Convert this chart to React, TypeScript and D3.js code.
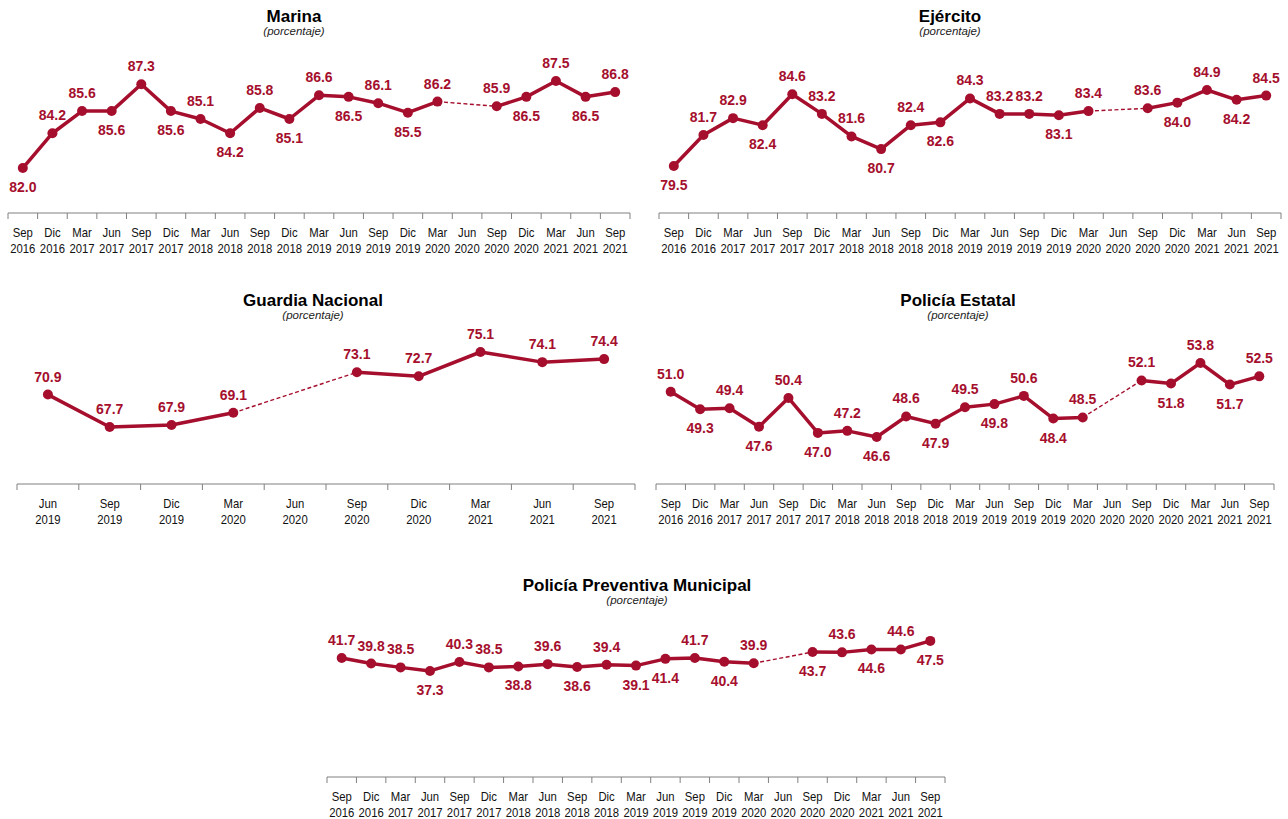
import React from "react";
import * as d3 from "d3";

// ---------- DATA ----------
const quarters: string[] = [
  "Sep 2016", "Dic 2016", "Mar 2017", "Jun 2017", "Sep 2017", "Dic 2017", "Mar 2018",
  "Jun 2018", "Sep 2018", "Dic 2018", "Mar 2019", "Jun 2019", "Sep 2019", "Dic 2019",
  "Mar 2020", "Jun 2020", "Sep 2020", "Dic 2020", "Mar 2021", "Jun 2021", "Sep 2021",
];
const gnQuarters: string[] = [
  "Jun 2019", "Sep 2019", "Dic 2019", "Mar 2020", "Jun 2020",
  "Sep 2020", "Dic 2020", "Mar 2021", "Jun 2021", "Sep 2021",
];

const marina: (number | null)[] = [
  82.0, 84.2, 85.6, 85.6, 87.3, 85.6, 85.1, 84.2, 85.8, 85.1, 86.6,
  86.5, 86.1, 85.5, 86.2, null, 85.9, 86.5, 87.5, 86.5, 86.8,
];
const ejercito: (number | null)[] = [
  79.5, 81.7, 82.9, 82.4, 84.6, 83.2, 81.6, 80.7, 82.4, 82.6, 84.3,
  83.2, 83.2, 83.1, 83.4, null, 83.6, 84.0, 84.9, 84.2, 84.5,
];
const guardia: (number | null)[] = [70.9, 67.7, 67.9, 69.1, null, 73.1, 72.7, 75.1, 74.1, 74.4];
const estatal: (number | null)[] = [
  51.0, 49.3, 49.4, 47.6, 50.4, 47.0, 47.2, 46.6, 48.6, 47.9, 49.5,
  49.8, 50.6, 48.4, 48.5, null, 52.1, 51.8, 53.8, 51.7, 52.5,
];
const municipal: (number | null)[] = [
  41.7, 39.8, 38.5, 37.3, 40.3, 38.5, 38.8, 39.6, 38.6, 39.4, 39.1,
  41.4, 41.7, 40.4, 39.9, null, 43.7, 43.6, 44.6, 44.6, 47.5,
];

// label placement: a = above, b = below
const marinaPos = "b a a b a b a b a b a b a b a - a b a b a".split(" ");
const ejercitoPos = "b a a b a a a b a b a a a b a - a b a b a".split(" ");
const guardiaPos = "a a a a - a a a a a".split(" ");
const estatalPos = "a b a b a b a b a b a b a b a - a b a b a".split(" ");
const municipalPos = "a a a b a a b a b a b b a b a - b a b a b".split(" ");

const RED = "#A50F2D";
const FONT = "Arial, 'Liberation Sans', Helvetica, sans-serif";

type PanelProps = {
  title: string;
  cats: string[];
  values: (number | null)[];
  pos: string[];
  x0: number;
  x1: number;
  axisY: number;
  topY: number;
  domain: [number, number];
  titleX: number;
  titleY: number;
};

function Panel(p: PanelProps) {
  const x = d3.scaleBand<string>().domain(p.cats).range([p.x0, p.x1]);
  const y = d3.scaleLinear().domain(p.domain).range([p.axisY, p.topY]);
  const cx = (i: number) => (x(p.cats[i]) as number) + x.bandwidth() / 2;
  const pts = p.values.map((v, i) => ({ v, i }));
  const line = d3
    .line<{ v: number | null; i: number }>()
    .defined((d) => d.v != null)
    .x((d) => cx(d.i))
    .y((d) => y(d.v as number));

  // dashed bridges across gaps
  const bridges: [number, number][] = [];
  for (let i = 0; i < p.values.length; i++) {
    if (p.values[i] == null) {
      const a = i - 1;
      let b = i + 1;
      while (b < p.values.length && p.values[b] == null) b++;
      if (a >= 0 && b < p.values.length) bridges.push([a, b]);
    }
  }
  const step = x.step();
  const ticks = d3.range(p.cats.length + 1).map((k) => p.x0 + k * step);

  return (
    <g>
      <text x={p.titleX} y={p.titleY} textAnchor="middle" fontFamily={FONT} fontWeight="bold" fontSize={17} fill="#000">
        {p.title}
      </text>
      <text x={p.titleX} y={p.titleY + 13} textAnchor="middle" fontFamily={FONT} fontStyle="italic" fontSize={11.5} fill="#222">
        (porcentaje)
      </text>
      <line x1={p.x0} x2={p.x1} y1={p.axisY} y2={p.axisY} stroke="#808080" strokeWidth={1} />
      {ticks.map((t, k) => (
        <line key={k} x1={t} x2={t} y1={p.axisY} y2={p.axisY + 6} stroke="#808080" strokeWidth={1} />
      ))}
      {p.cats.map((c, i) => {
        const [m, yr] = c.split(" ");
        return (
          <g key={c}>
            <text transform={`translate(${cx(i)},${p.axisY + 24}) scale(0.87,1)`} textAnchor="middle" fontFamily={FONT} fontSize={13} fill="#111">
              {m}
            </text>
            <text transform={`translate(${cx(i)},${p.axisY + 40}) scale(0.87,1)`} textAnchor="middle" fontFamily={FONT} fontSize={13} fill="#111">
              {yr}
            </text>
          </g>
        );
      })}
      {bridges.map(([a, b], k) => (
        <line
          key={k}
          x1={cx(a)}
          y1={y(p.values[a] as number)}
          x2={cx(b)}
          y2={y(p.values[b] as number)}
          stroke={RED}
          strokeWidth={1.4}
          strokeDasharray="4,2.5"
        />
      ))}
      <path d={line(pts) || ""} fill="none" stroke={RED} strokeWidth={3.5} strokeLinejoin="round" />
      {pts.map((d) =>
        d.v == null ? null : (
          <circle key={d.i} cx={cx(d.i)} cy={y(d.v)} r={5} fill={RED} />
        )
      )}
      {pts.map((d) =>
        d.v == null ? null : (
          <text
            key={"l" + d.i}
            x={cx(d.i)}
            y={y(d.v) + (p.pos[d.i] === "a" ? -13 : 24)}
            textAnchor="middle"
            fontFamily={FONT}
            fontWeight="bold"
            fontSize={14}
            fill={RED}
          >
            {d.v.toFixed(1)}
          </text>
        )
      )}
    </g>
  );
}

export default function App() {
  return (
    <svg
      width={1288}
      height={819}
      style={{ position: "absolute", left: 0, top: 0, display: "block", background: "#fff" }}
    >
      <rect width={1288} height={819} fill="#fff" />
      <Panel title="Marina" cats={quarters} values={marina} pos={marinaPos}
        x0={8} x1={630} axisY={213} topY={50} domain={[79.16, 89.46]} titleX={294} titleY={22} />
      <Panel title="Ejército" cats={quarters} values={ejercito} pos={ejercitoPos}
        x0={659} x1={1281} axisY={213} topY={50} domain={[76.16, 87.74]} titleX={950} titleY={22} />
      <Panel title="Guardia Nacional" cats={gnQuarters} values={guardia} pos={guardiaPos}
        x0={17} x1={635} axisY={484} topY={330} domain={[62.08, 77.27]} titleX={313} titleY={306} />
      <Panel title="Policía Estatal" cats={quarters} values={estatal} pos={estatalPos}
        x0={656} x1={1274} axisY={484} topY={330} domain={[42.03, 57.01]} titleX={958} titleY={306} />
      <Panel title="Policía Preventiva Municipal" cats={quarters} values={municipal} pos={municipalPos}
        x0={327} x1={945} axisY={777} topY={620} domain={[1.25, 54.6]} titleX={637} titleY={591} />
    </svg>
  );
}
